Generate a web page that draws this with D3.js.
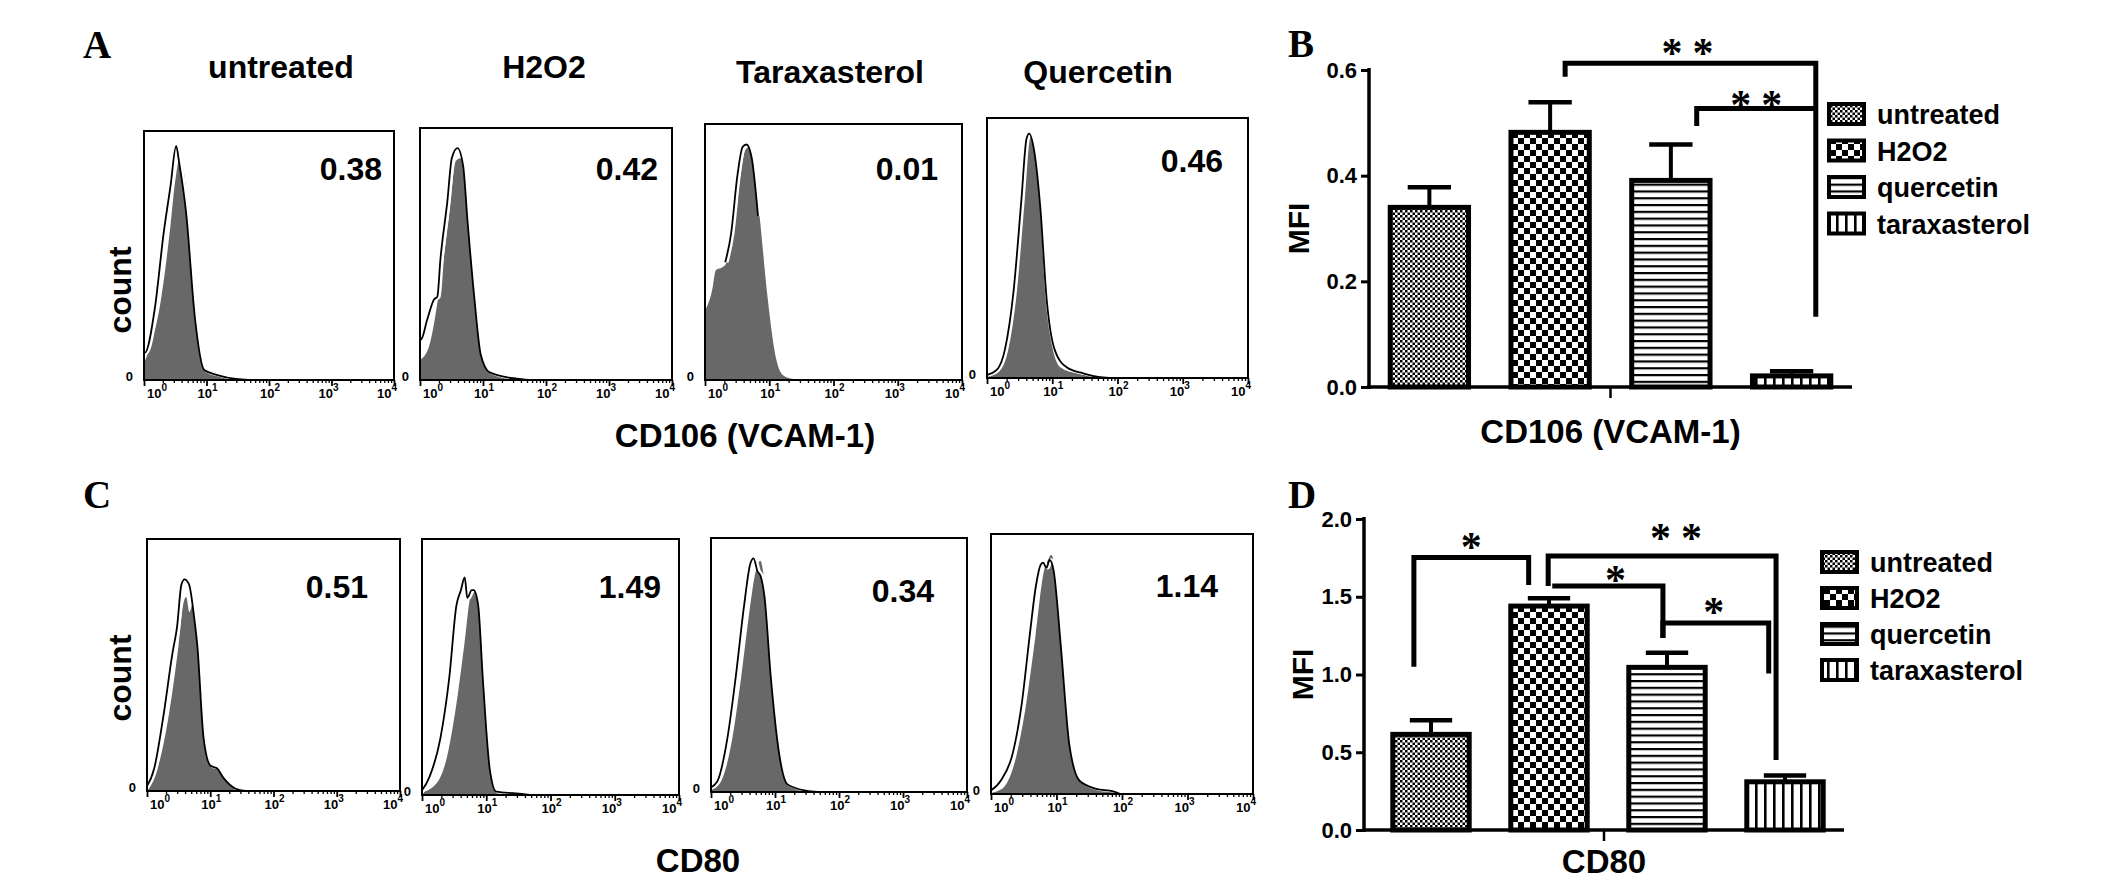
<!DOCTYPE html>
<html>
<head>
<meta charset="utf-8">
<script src="https://cdn.jsdelivr.net/npm/d3@7"></script>
<style>
  body { margin: 0; background: #fff; }
  svg { display: block; }
  text { font-family: "Liberation Sans", Arial, sans-serif; font-weight: bold; fill: #000; }
</style>
</head>
<body>
<svg id="fig" width="2126" height="890" viewBox="0 0 2126 890"></svg>
<script>
// ---------- data ----------
const sampleTitles = ["untreated", "H2O2", "Taraxasterol", "Quercetin"]
const vcamMfiText = ["0.38", "0.42", "0.01", "0.46"]
const cd80MfiText = ["0.51", "1.49", "0.34", "1.14"]
const histDecades = [0, 1, 2, 3, 4]

// histogram curves: [log10 intensity, fraction of max count]
const vcamFill = [
  [[0,0.07],[0.12,0.15],[0.27,0.32],[0.41,0.59],[0.5,0.8],[0.56,0.88],[0.64,0.83],[0.74,0.59],[0.84,0.25],[0.95,0.05],[1.13,0.03],[1.3,0.015],[1.5,0.005],[1.7,0]],
  [[0,0.08],[0.14,0.13],[0.32,0.38],[0.46,0.65],[0.57,0.87],[0.64,0.88],[0.71,0.85],[0.78,0.63],[0.89,0.32],[0.99,0.1],[1.13,0.03],[1.35,0.012],[1.56,0.005],[1.75,0]],
  [[0,0.27],[0.11,0.35],[0.17,0.43],[0.27,0.44],[0.34,0.46],[0.43,0.55],[0.53,0.76],[0.63,0.9],[0.69,0.91],[0.75,0.87],[0.85,0.64],[0.98,0.31],[1.11,0.08],[1.21,0.02],[1.37,0.004],[1.5,0]],
  [[0,0.01],[0.17,0.03],[0.3,0.11],[0.43,0.33],[0.55,0.68],[0.63,0.92],[0.67,0.94],[0.73,0.89],[0.81,0.66],[0.9,0.3],[1.0,0.12],[1.13,0.04],[1.38,0.017],[1.7,0.004],[1.9,0]]
]
const vcamLine = [
  [[0,0.16],[0.04,0.11],[0.2,0.29],[0.34,0.59],[0.45,0.78],[0.54,0.94],[0.59,0.87],[0.7,0.67],[0.84,0.25],[0.99,0.04],[1.2,0.02],[1.5,0.004],[1.7,0]],
  [[0,0.3],[0.04,0.16],[0.14,0.24],[0.25,0.32],[0.3,0.33],[0.35,0.48],[0.46,0.71],[0.53,0.88],[0.62,0.92],[0.71,0.85],[0.78,0.63],[0.89,0.32],[0.99,0.1],[1.13,0.03],[1.56,0.005],[1.75,0]],
  [[0.34,0.46],[0.43,0.57],[0.53,0.8],[0.61,0.91],[0.67,0.92],[0.75,0.87],[0.85,0.64]],
  [[0,0.01],[0.17,0.03],[0.3,0.11],[0.43,0.33],[0.55,0.68],[0.63,0.92],[0.67,0.94],[0.75,0.87],[0.84,0.66],[0.94,0.3],[1.06,0.11],[1.25,0.04],[1.51,0.017],[1.73,0.004],[1.9,0]]
]
const cd80Fill = [
  [[0,0.01],[0.11,0.05],[0.21,0.13],[0.35,0.31],[0.5,0.58],[0.58,0.75],[0.62,0.77],[0.67,0.71],[0.72,0.74],[0.82,0.58],[0.92,0.21],[1.03,0.1],[1.13,0.09],[1.24,0.05],[1.42,0.01],[1.6,0]],
  [[0,0.01],[0.24,0.05],[0.38,0.14],[0.52,0.33],[0.66,0.59],[0.76,0.78],[0.83,0.8],[0.9,0.74],[0.97,0.46],[1.08,0.1],[1.18,0.013],[1.49,0.006],[1.7,0]],
  [[0,0.01],[0.15,0.04],[0.31,0.18],[0.47,0.45],[0.6,0.71],[0.7,0.87],[0.77,0.91],[0.86,0.77],[0.96,0.45],[1.09,0.15],[1.22,0.03],[1.51,0.005],[1.7,0]],
  [[0,0.005],[0.17,0.02],[0.36,0.12],[0.52,0.32],[0.68,0.61],[0.81,0.86],[0.87,0.9],[0.92,0.92],[0.98,0.86],[1.09,0.57],[1.22,0.19],[1.38,0.05],[1.63,0.02],[1.89,0.01],[2.0,0]]
]
const cd80Line = [
  [[0,0.01],[0.14,0.09],[0.28,0.29],[0.43,0.55],[0.5,0.65],[0.57,0.82],[0.62,0.84],[0.69,0.82],[0.77,0.69],[0.82,0.58],[0.92,0.21],[1.03,0.1],[1.13,0.09],[1.24,0.05],[1.42,0.01],[1.6,0]],
  [[0,0.01],[0.14,0.07],[0.31,0.22],[0.45,0.46],[0.56,0.74],[0.63,0.8],[0.69,0.85],[0.73,0.77],[0.8,0.8],[0.83,0.8],[0.9,0.74],[0.97,0.46],[1.08,0.1],[1.18,0.013],[1.49,0.006],[1.7,0]],
  [[0,0.015],[0.12,0.04],[0.28,0.21],[0.41,0.45],[0.54,0.73],[0.64,0.9],[0.69,0.92],[0.75,0.87],[0.8,0.85],[0.86,0.77],[0.96,0.45],[1.09,0.15],[1.22,0.03],[1.51,0.005],[1.7,0]],
  [[0,0.01],[0.17,0.05],[0.36,0.16],[0.49,0.34],[0.62,0.62],[0.71,0.8],[0.78,0.88],[0.82,0.89],[0.87,0.87],[0.92,0.9],[0.98,0.86],[1.09,0.57],[1.22,0.19],[1.38,0.05],[1.63,0.02],[1.89,0.01],[2.0,0]]
]

// bar charts
const groups = ["untreated", "H2O2", "quercetin", "taraxasterol"]
const vcamMean = [0.34, 0.482, 0.391, 0.021]
const vcamErr = [0.038, 0.057, 0.068, 0.009]
const cd80Mean = [0.615, 1.44, 1.046, 0.31]
const cd80Err = [0.09, 0.05, 0.094, 0.04]
const vcamTicks = [0, 0.2, 0.4, 0.6]
const cd80Ticks = [0, 0.5, 1.0, 1.5, 2.0]
// significance: groups compared, number of stars, bracket top and the two drop ends (MFI units)
const vcamSig = [
  {a: "H2O2", b: "taraxasterol", stars: 2, top: 0.613, endA: 0.587, endB: 0.133},
  {a: "quercetin", b: "taraxasterol", stars: 2, top: 0.527, endA: 0.494, endB: 0.527}
]
const cd80Sig = [
  {a: "untreated", b: "H2O2", stars: 1, top: 1.752, endA: 1.05, endB: 1.576},
  {a: "H2O2", b: "taraxasterol", stars: 2, top: 1.762, endA: 1.569, endB: 0.45},
  {a: "H2O2", b: "quercetin", stars: 1, top: 1.569, endA: 1.569, endB: 1.235},
  {a: "quercetin", b: "taraxasterol", stars: 1, top: 1.331, endA: 1.235, endB: 1.007}
]

// ---------- layout ----------
const vcamBoxes = [
  {x0: 144, x1: 394, y0: 131, y1: 380, vx: 382, vy: 180},
  {x0: 420, x1: 672, y0: 128, y1: 380, vx: 658, vy: 180},
  {x0: 705, x1: 962, y0: 124, y1: 380, vx: 938, vy: 180},
  {x0: 987, x1: 1248, y0: 118, y1: 378, vx: 1223, vy: 172}
]
const cd80Boxes = [
  {x0: 147, x1: 400, y0: 539, y1: 791, vx: 368, vy: 598},
  {x0: 422, x1: 679, y0: 539, y1: 795, vx: 661, vy: 598},
  {x0: 711, x1: 967, y0: 538, y1: 792, vx: 934, vy: 602},
  {x0: 991, x1: 1253, y0: 534, y1: 794, vx: 1218, vy: 597}
]
const titlePos = [[281, 78], [544, 78], [830, 83], [1098, 83]]
const labelNudge = [13, 1, 1, -3, -7]

const svg = d3.select("#fig")
svg.append("rect").attr("width", 2126).attr("height", 890).attr("fill", "#fff")

// patterns for the bars
const defs = svg.append("defs")
let pat = (id, w, h, rects) => {
  let p = defs.append("pattern").attr("id", id).attr("patternUnits", "userSpaceOnUse")
    .attr("width", w).attr("height", h)
  p.append("rect").attr("width", w).attr("height", h).attr("fill", "#fff")
  rects.forEach(r => p.append("rect").attr("x", r[0]).attr("y", r[1]).attr("width", r[2]).attr("height", r[3]).attr("fill", "#000"))
}
pat("pat0", 5, 5, [[0, 0, 2.5, 2.5], [2.5, 2.5, 2.5, 2.5]])
pat("pat1", 12, 12, [[0, 0, 6, 6], [6, 6, 6, 6]])
pat("pat2", 10, 6.8, [[0, 0, 10, 2.2]])
pat("pat3", 9, 10, [[0, 0, 2.6, 10]])

// ---------- histograms ----------
let clipN = 0
let histPanel = (box, fill, line, value) => {
  let g = svg.append("g")
  let x = d3.scaleLinear().domain([0, 4]).range([box.x0, box.x1])
  let xl = d3.scaleLog().domain([1, 1e4]).range([box.x0, box.x1])
  let y = d3.scaleLinear().domain([0, 1]).range([box.y1, box.y0])

  let cid = "clip" + (clipN++)
  defs.append("clipPath").attr("id", cid).append("rect")
    .attr("x", box.x0).attr("y", box.y0).attr("width", box.x1 - box.x0).attr("height", box.y1 - box.y0)

  let area = d3.area().x(d => x(d[0])).y0(box.y1).y1(d => y(d[1])).curve(d3.curveMonotoneX)
  let ln = d3.line().x(d => x(d[0])).y(d => y(d[1])).curve(d3.curveMonotoneX)
  let inner = g.append("g").attr("clip-path", `url(#${cid})`)
  inner.append("path").attr("d", area(fill)).attr("fill", "#686868")
  inner.append("path").attr("d", ln(line)).attr("fill", "none").attr("stroke", "#fff").attr("stroke-width", 3.5)
  inner.append("path").attr("d", ln(line)).attr("fill", "none").attr("stroke", "#000").attr("stroke-width", 1.8)
    .attr("transform", "translate(-1.6,0)")

  g.append("rect").attr("x", box.x0).attr("y", box.y0).attr("width", box.x1 - box.x0).attr("height", box.y1 - box.y0)
    .attr("fill", "none").attr("stroke", "#000").attr("stroke-width", 2)

  // log axis with minor ticks
  let tv = []
  d3.range(0, 4).forEach(k => d3.range(1, 10).forEach(m => tv.push(m * Math.pow(10, k))))
  tv.push(1e4)
  let ax = g.append("g").attr("transform", `translate(0,${box.y1})`)
    .call(d3.axisBottom(xl).tickValues(tv).tickSize(3).tickSizeOuter(0).tickFormat(""))
  ax.select(".domain").remove()
  ax.selectAll(".tick line").attr("stroke-width", 1.3)
    .filter(d => Number.isInteger(Math.round(Math.log10(d) * 1000) / 1000)).attr("y2", 6).attr("stroke-width", 1.8)

  histDecades.forEach((k, i) => {
    let t = g.append("text").attr("x", xl(Math.pow(10, k)) + labelNudge[i]).attr("y", box.y1 + 18)
      .attr("text-anchor", "middle").style("font-size", "13px")
    t.append("tspan").text("10")
    t.append("tspan").attr("dy", -7).style("font-size", "10px").text(k)
  })
  g.append("text").attr("x", box.x0 - 11).attr("y", box.y1 + 1).attr("text-anchor", "end")
    .style("font-size", "13px").text("0")

  g.append("text").attr("x", box.vx).attr("y", box.vy).attr("text-anchor", "end")
    .style("font-size", "32px").text(value)
}

vcamBoxes.forEach((b, i) => histPanel(b, vcamFill[i], vcamLine[i], vcamMfiText[i]))
cd80Boxes.forEach((b, i) => histPanel(b, cd80Fill[i], cd80Line[i], cd80MfiText[i]))

sampleTitles.forEach((t, i) => {
  svg.append("text").attr("x", titlePos[i][0]).attr("y", titlePos[i][1]).attr("text-anchor", "middle")
    .style("font-size", "32px").text(t)
})

let vText = (txt, cx, cy, size) => svg.append("text")
  .attr("transform", `translate(${cx},${cy}) rotate(-90)`).attr("text-anchor", "middle")
  .attr("dominant-baseline", "central").style("font-size", size + "px").text(txt)

vText("count", 120, 290, 32)
vText("count", 120, 678, 32)
svg.append("text").attr("x", 745).attr("y", 447).attr("text-anchor", "middle").style("font-size", "33px").text("CD106 (VCAM-1)")
svg.append("text").attr("x", 698).attr("y", 872).attr("text-anchor", "middle").style("font-size", "33px").text("CD80")

// panel letters
let letter = (t, x, y) => svg.append("text").attr("x", x).attr("y", y)
  .style("font-family", '"Liberation Serif", "Times New Roman", serif').style("font-size", "39px").text(t)
letter("A", 83, 58)
letter("B", 1288, 57)
letter("C", 83, 508)
letter("D", 1288, 508)

// ---------- bar charts ----------
// nudge per bracket: [left end, right end] as fraction of bar width, then star dx and height above line
let barPanel = (L, means, errs, ticks, sig, nudge, xTitle) => {
  let g = svg.append("g")
  let y = d3.scaleLinear().domain([0, ticks[ticks.length - 1]]).range([L.yBase, L.yTop])
  let x = d3.scaleBand().domain(groups).range([L.bandX0, L.bandX1]).paddingInner(0.31).paddingOuter(0.155)
  let bw = x.bandwidth()

  g.selectAll("rect.bar").data(groups).enter().append("rect").attr("class", "bar")
    .attr("x", d => x(d) + 2.5).attr("width", bw - 5)
    .attr("y", (d, i) => y(means[i])).attr("height", (d, i) => L.yBase - y(means[i]))
    .attr("fill", (d, i) => `url(#pat${i})`).attr("stroke", "#000").attr("stroke-width", 5)

  // error bars (upper only)
  groups.forEach((d, i) => {
    let cx = x(d) + bw / 2
    g.append("line").attr("x1", cx).attr("x2", cx).attr("y1", y(means[i])).attr("y2", y(means[i] + errs[i]))
      .attr("stroke", "#000").attr("stroke-width", 4)
    g.append("line").attr("x1", cx - bw * 0.26).attr("x2", cx + bw * 0.26)
      .attr("y1", y(means[i] + errs[i])).attr("y2", y(means[i] + errs[i]))
      .attr("stroke", "#000").attr("stroke-width", 4.5)
  })

  // axes
  let ay = g.append("g").attr("transform", `translate(${L.x0},0)`)
    .call(d3.axisLeft(y).tickValues(ticks).tickFormat(d3.format(".1f")).tickSize(8).tickSizeOuter(0))
  ay.select(".domain").remove()
  ay.selectAll(".tick line").attr("stroke-width", 3)
  ay.selectAll(".tick text").attr("x", -12).style("font-size", "22px").style("font-family", '"Liberation Sans", Arial, sans-serif')
  g.append("line").attr("x1", L.x0).attr("x2", L.x0).attr("y1", L.yTop - 2).attr("y2", L.yBase + 2)
    .attr("stroke", "#000").attr("stroke-width", 3.5)
  g.append("line").attr("x1", L.x0 - 2).attr("x2", L.x1).attr("y1", L.yBase).attr("y2", L.yBase)
    .attr("stroke", "#000").attr("stroke-width", 3.5)
  let mid = (L.x0 + L.x1) / 2
  g.append("line").attr("x1", mid).attr("x2", mid).attr("y1", L.yBase).attr("y2", L.yBase + 11)
    .attr("stroke", "#000").attr("stroke-width", 2.5)

  // significance brackets
  sig.forEach((s, i) => {
    let n = nudge[i]
    let xa = x(s.a) + bw / 2 + n[0] * bw
    let xb = x(s.b) + bw / 2 + n[1] * bw
    g.append("path").attr("d", `M${xa},${y(s.endA)}V${y(s.top)}H${xb}V${y(s.endB)}`)
      .attr("fill", "none").attr("stroke", "#000").attr("stroke-width", 5)
    let sx = (xa + xb) / 2 + n[2]
    d3.range(s.stars).forEach(k => {
      g.append("text").attr("x", sx + (k - (s.stars - 1) / 2) * 31).attr("y", y(s.top) - n[3] + 19)
        .attr("text-anchor", "middle")
        .style("font-family", '"Liberation Serif", "Times New Roman", serif').style("font-size", "42px")
        .text("*")
    })
  })

  vText("MFI", L.mfiX, (L.yTop + L.yBase) / 2, 30)
  g.append("text").attr("x", mid).attr("y", L.titleY).attr("text-anchor", "middle").style("font-size", "33px").text(xTitle)

  // legend
  groups.forEach((d, i) => {
    let cy = L.legY + i * L.legStep
    g.append("rect").attr("x", L.legX).attr("y", cy - 10).attr("width", 35).attr("height", 20)
      .attr("fill", `url(#pat${i})`).attr("stroke", "#000").attr("stroke-width", 4)
    g.append("text").attr("x", L.legX + 48).attr("y", cy + 10).style("font-size", "27px").text(d)
  })
}

barPanel({x0: 1369, x1: 1852, bandX0: 1369, bandX1: 1852, yTop: 70, yBase: 387, mfiX: 1298, titleY: 443,
          legX: 1829, legY: 114, legStep: 36.5},
  vcamMean, vcamErr, vcamTicks, vcamSig, [[0.18, 0.29, -3, 15], [0.31, 0.29, 0, 9]], "CD106 (VCAM-1)")
barPanel({x0: 1364, x1: 1844, bandX0: 1372, bandX1: 1844, yTop: 519, yBase: 830, mfiX: 1302, titleY: 873,
          legX: 1822, legY: 562, legStep: 36},
  cd80Mean, cd80Err, cd80Ticks, cd80Sig,
  [[-0.21, -0.25, 0, 16], [-0.01, -0.11, 14, 23], [0.04, -0.05, 8, 11], [-0.05, -0.2, -2, 16]], "CD80")
</script>
</body>
</html>
